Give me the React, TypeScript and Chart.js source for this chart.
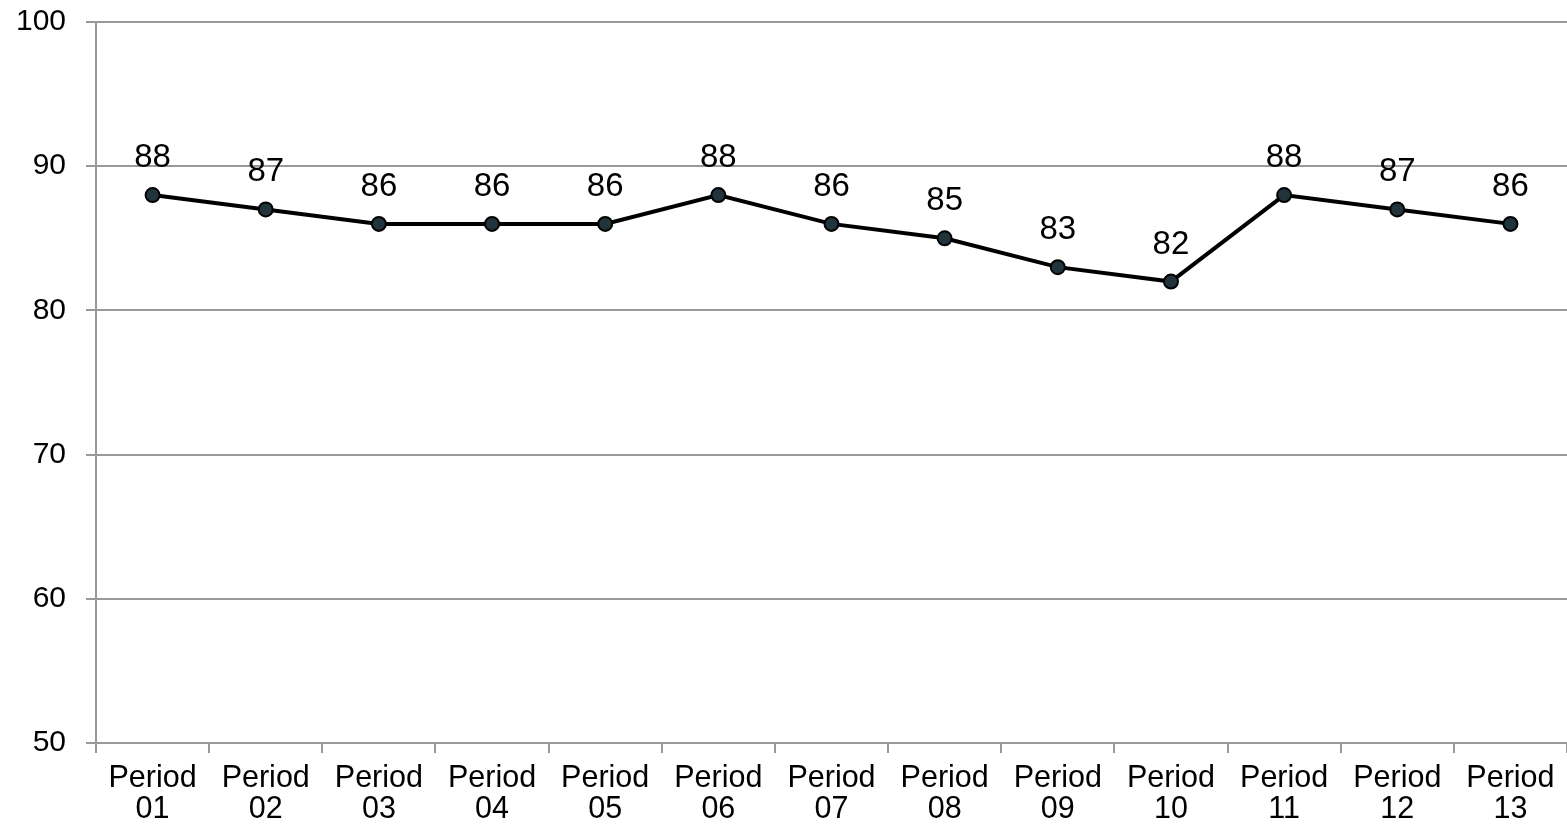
import React, { useEffect, useRef } from "react";
import { Chart, registerables } from "chart.js";

Chart.register(...registerables);

const categories: string[][] = [
  ["Period", "01"], ["Period", "02"], ["Period", "03"], ["Period", "04"], ["Period", "05"],
  ["Period", "06"], ["Period", "07"], ["Period", "08"], ["Period", "09"], ["Period", "10"],
  ["Period", "11"], ["Period", "12"], ["Period", "13"],
];
const values: number[] = [88, 87, 86, 86, 86, 88, 86, 85, 83, 82, 88, 87, 86];
const yMin = 50;
const yMax = 100;
const yStep = 10;

const FONT = "'Liberation Sans', Arial, sans-serif";

const labelPlugin = {
  id: "pointLabels",
  afterDatasetsDraw(chart: any) {
    const ctx = chart.ctx;
    const meta = chart.getDatasetMeta(0);
    ctx.save();
    ctx.font = `33px ${FONT}`;
    ctx.fillStyle = "#000";
    ctx.textAlign = "center";
    ctx.textBaseline = "alphabetic";
    meta.data.forEach((pt: any, i: number) => {
      ctx.fillText(String(values[i]), pt.x, pt.y - 28);
    });
    ctx.restore();
  },
};

export default function App() {
  const ref = useRef<HTMLCanvasElement>(null);
  useEffect(() => {
    const chart = new Chart(ref.current!, {
      type: "line",
      data: {
        labels: categories,
        datasets: [
          {
            data: values,
            borderColor: "#000",
            borderWidth: 4,
            pointRadius: 7,
            pointBorderWidth: 2,
            pointBackgroundColor: "#22343b",
            pointBorderColor: "#000",
            tension: 0,
          },
        ],
      },
      options: {
        animation: false,
        responsive: false,
        maintainAspectRatio: false,
        layout: { autoPadding: false, padding: { top: 22, right: -4, left: 0, bottom: 0 } },
        plugins: { legend: { display: false }, tooltip: { enabled: false } },
        scales: {
          x: {
            offset: true,
            grid: {
              offset: true,
              drawOnChartArea: false,
              color: "#999",
              lineWidth: 2,
              tickLength: 10,
            },
            border: { color: "#999", width: 2 },
            ticks: {
              color: "#000",
              font: { family: FONT, size: 30.5, lineHeight: 1.02 },
              padding: 10,
              maxRotation: 0,
              autoSkip: false,
            },
            afterFit(scale: any) {
              scale.height = 90;
              scale.paddingLeft = 0;
              scale.paddingRight = -4;
            },
          },
          y: {
            min: yMin,
            max: yMax,
            ticks: {
              stepSize: yStep,
              color: "#000",
              font: { family: FONT, size: 30 },
              padding: 20,
            },
            grid: { color: "#999", lineWidth: 2, tickLength: 10 },
            border: { color: "#999", width: 2 },
            afterFit(scale: any) {
              scale.width = 96;
              scale.paddingTop = 0;
              scale.paddingBottom = 0;
            },
          },
        },
      },
      plugins: [labelPlugin],
    });
    return () => chart.destroy();
  }, []);
  return (
    <>
      <style>{"html,body{margin:0;padding:0;overflow:hidden}"}</style>
      <div style={{ width: 1567, height: 833 }}>
        <canvas ref={ref} width={1567} height={833} style={{ display: "block", width: 1567, height: 833 }} />
      </div>
    </>
  );
}
